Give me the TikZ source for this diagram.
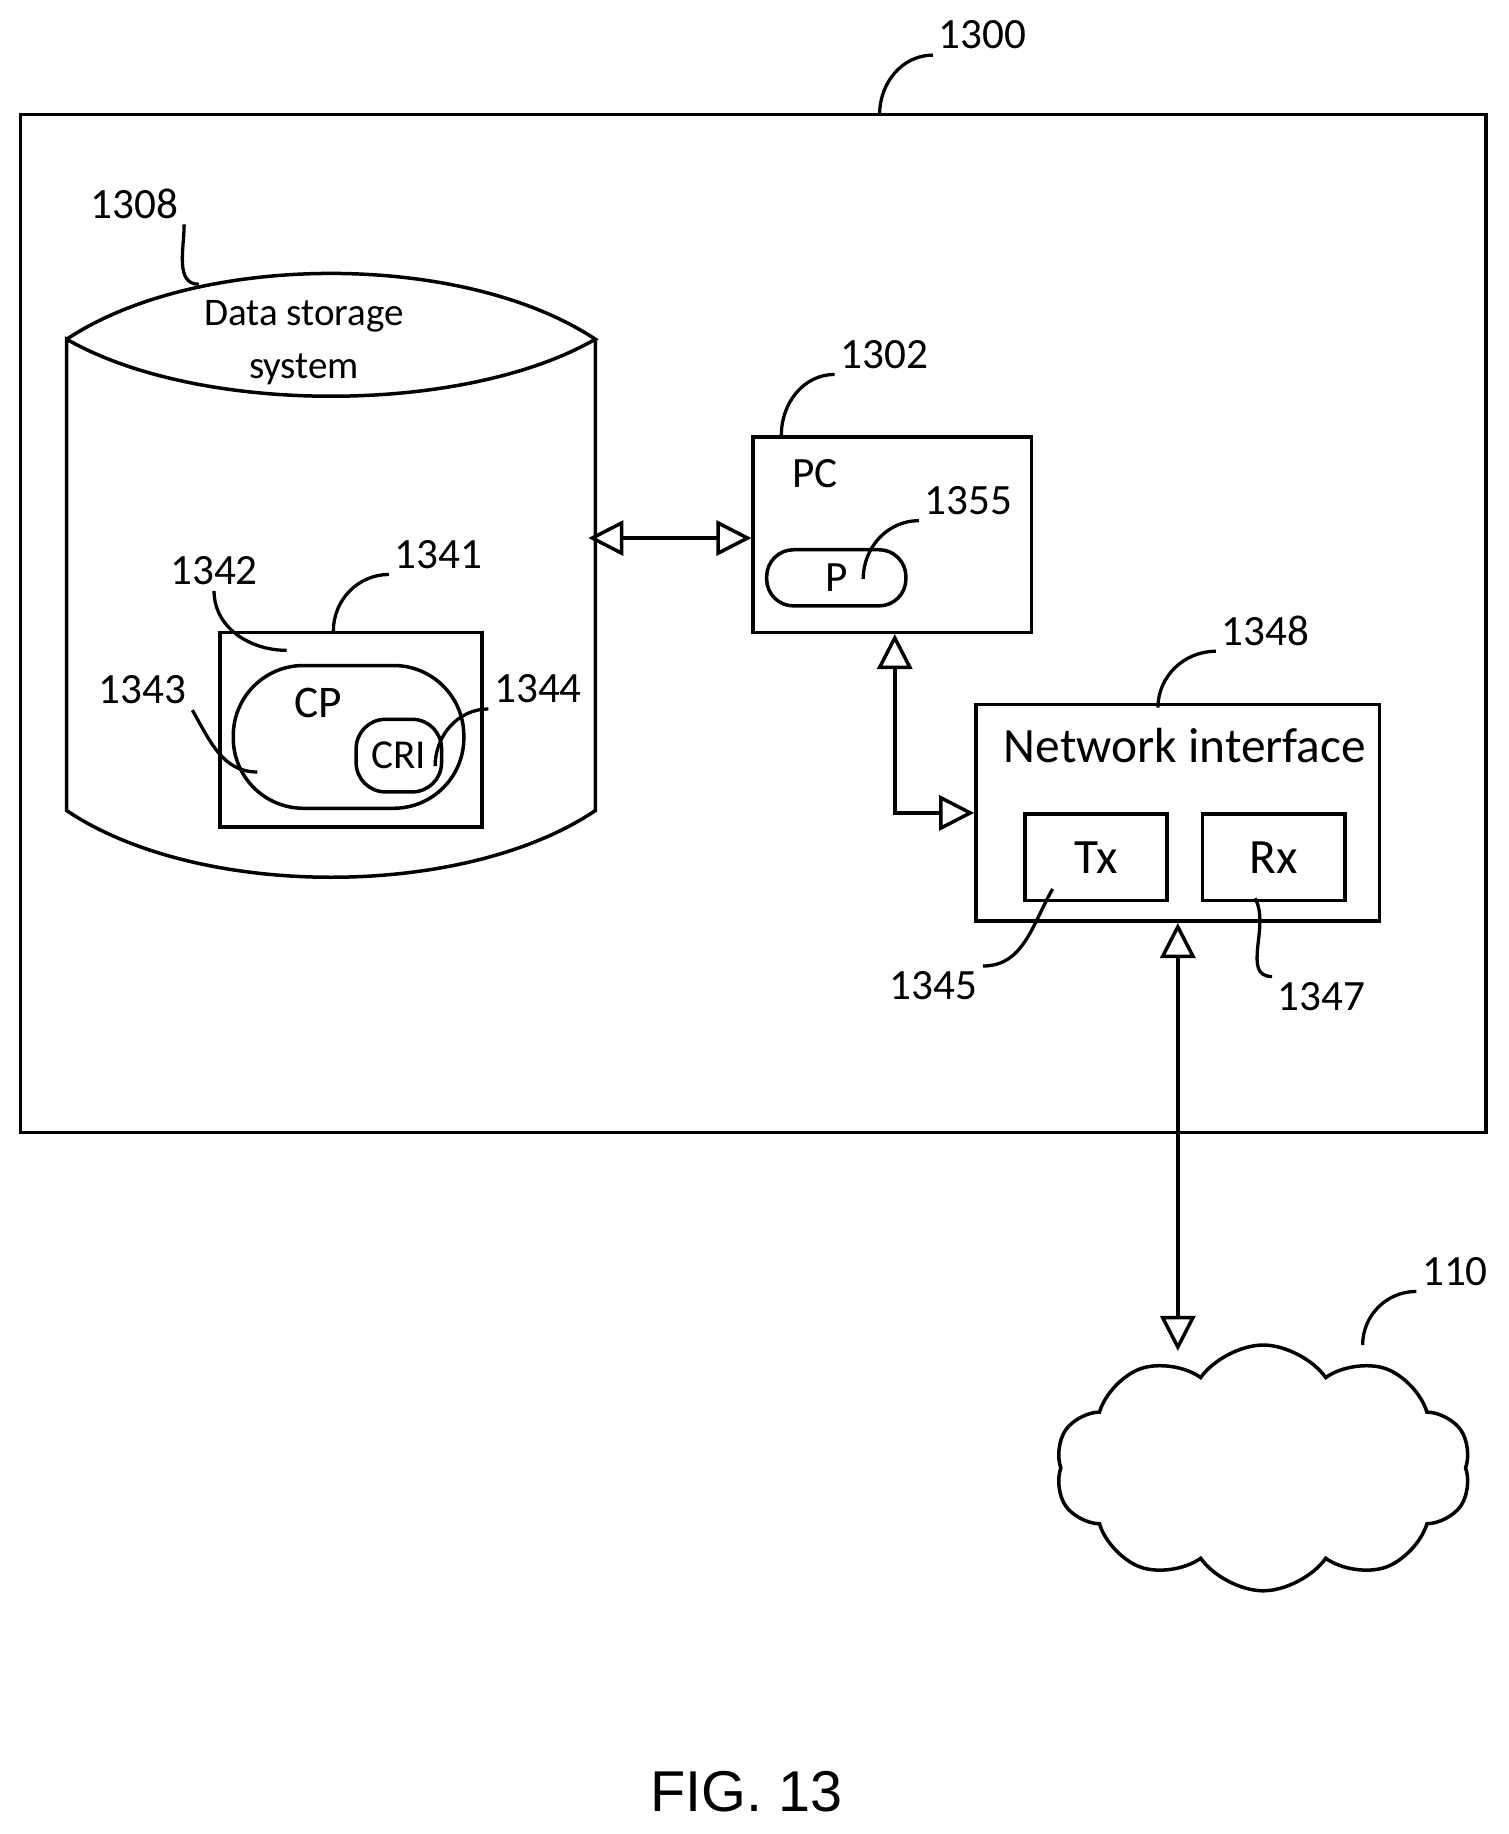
\documentclass[tikz,border=0pt]{standalone}
\usepackage{fontspec}
\setmainfont{Carlito}
\newfontfamily\figfont{Liberation Sans}
\usetikzlibrary{arrows.meta, shapes.symbols, positioning}

\begin{document}
\begin{tikzpicture}[x=0.01cm, y=-0.01cm, line width=0.85pt,
        box/.style={rectangle, draw, inner sep=0pt},
        pill/.style={rectangle, draw, rounded corners=#1, inner sep=0pt},
        num/.style={font=\fontsize{10.5}{12}\selectfont, inner sep=1pt},
        lead/.style={line width=0.8pt},
        dbl/.style={{Triangle[open,length=3mm,width=3mm]}-{Triangle[open,length=3mm,width=3mm]}}]
        \useasboundingbox (0,0) rectangle (1290,1568);

        % outer frame
        \node at (644,533) [box, minimum width=12.52cm, minimum height=8.7cm] (dev) {};
        \node at (840,30) [num] (l1300) {1300};
        \draw[lead] (752,98) to[out=90,in=180] (l1300.south west);

        % data storage cylinder
        \draw (57,290) .. controls (170,215) and (396,215) .. (509,290)
              .. controls (396,355) and (170,355) .. (57,290) -- (57,693)
              .. controls (170,769) and (396,769) .. (509,693) -- (509,290);
        \node at (260,293) [align=center, font=\fontsize{9.5}{13}\selectfont] (dss) {Data storage\\system};
        \coordinate (dssTop) at (170,243);
        \node at (115,174) [num] (l1308) {1308};
        \draw[lead] (dssTop) to[out=180,in=-90] (l1308.south east);
        \coordinate (dssPort) at (503,460);

        % computer program box
        \node at (300,624) [box, minimum width=2.24cm, minimum height=1.66cm] (cpbox) {};
        \node at (298,630) [pill=0.6cm, minimum width=1.97cm, minimum height=1.22cm] (cp) {};
        \node at (272,601) [font=\fontsize{11}{13}\selectfont] (cpText) {CP};
        \node at (341,646) [pill=0.25cm, minimum width=0.73cm, minimum height=0.62cm, font=\fontsize{10}{12}\selectfont] (cri) {CRI};
        \node at (375,474) [num] (l1341) {1341};
        \draw[lead] (cpbox.north) ++(-15,0) to[out=90,in=180] (l1341.south west);
        \node at (183,488) [num] (l1342) {1342};
        \draw[lead] (245,556) to[out=180,in=-90] (l1342.south);
        \node at (122,590) [num] (l1343) {1343};
        \draw[lead] (220,660) to[out=180,in=-60] (l1343.south east);
        \node at (460,589) [num] (l1344) {1344};
        \draw[lead] (372,655) to[out=90,in=180] (l1344.south west);

        % processing circuitry
        \node at (763,457) [box, minimum width=2.38cm, minimum height=1.67cm] (pc) {};
        \node at (697,405) [font=\fontsize{10.5}{12}\selectfont] (pcText) {PC};
        \node at (715,494) [pill=0.23cm, minimum width=1.19cm, minimum height=0.48cm, font=\fontsize{10.5}{12}\selectfont] (p) {P};
        \node at (756,303) [num] (l1302) {1302};
        \draw[lead] (668,372) to[out=90,in=180] (l1302.south west);
        \node at (828,428) [num] (l1355) {1355};
        \draw[lead] (738,495) to[out=90,in=180] (l1355.south west);

        % network interface
        \node at (1007,695) [box, minimum width=3.45cm, minimum height=1.85cm] (ni) {};
        \node at (1013,637) [font=\fontsize{12}{14}\selectfont] (niText) {Network interface};
        \node at (937,733) [box, minimum width=1.21cm, minimum height=0.74cm, font=\fontsize{12}{14}\selectfont] (tx) {Tx};
        \node at (1089,733) [box, minimum width=1.22cm, minimum height=0.74cm, font=\fontsize{12}{14}\selectfont] (rx) {Rx};
        \node at (1082,539) [num] (l1348) {1348};
        \draw[lead] (990,605) to[out=90,in=180] (l1348.south west);
        \node at (798,843) [num] (l1345) {1345};
        \draw[lead] (900,760) to[out=-120,in=0] (l1345.north east);
        \node at (1130,852) [num] (l1347) {1347};
        \draw[lead] (1073,768) to[out=-60,in=180] (l1347.north west);

        % network
        \node at (1080,1255) [cloud, draw, cloud puffs=10, cloud puff arc=110, minimum width=3.55cm, minimum height=2.1cm] (net) {};
        \node at (1244,1087) [num] (l110) {110};
        \draw[lead] (1165,1150) to[out=90,in=180] (l110.south west);

        % links
        \draw[dbl] (dssPort) -- (pc.west |- dssPort);
        \draw[dbl] (pc.south -| 765,0) |- (ni.west |- 0,695);
        \draw[dbl] (ni.south -| 1007,0) -- (1007,1155);

        \node at (638,1532) [font=\figfont\fontsize{14}{16}\selectfont] (fig) {FIG. 13};
    \end{tikzpicture}
\end{document}
